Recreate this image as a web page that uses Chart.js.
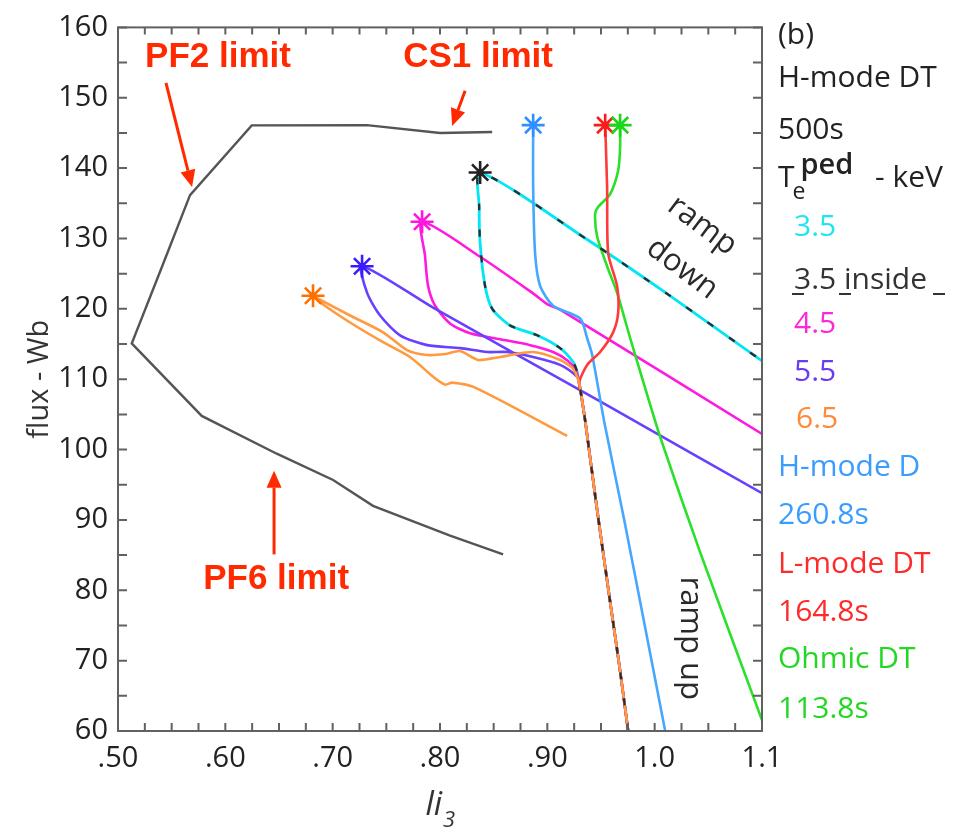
<!DOCTYPE html>
<html>
<head>
<meta charset="utf-8">
<title>flux vs li3</title>
<script src="https://cdn.jsdelivr.net/npm/chart.js@4.4.1/dist/chart.umd.min.js"></script>
<style>
  html, body { margin: 0; padding: 0; background: #fff; }
  #wrap { width: 965px; height: 833px; }
</style>
</head>
<body>
<div id="wrap"><canvas id="flux" width="965" height="833"></canvas></div>
<script>
// axis ticks
const liTicks = [0.5, 0.6, 0.7, 0.8, 0.9, 1.0, 1.1];
const liTickLabels = ['.50', '.60', '.70', '.80', '.90', '1.0', '1.1'];
const fluxTicks = [60, 70, 80, 90, 100, 110, 120, 130, 140, 150, 160];
const fluxTickLabels = ['60', '70', '80', '90', '100', '110', '120', '130', '140', '150', '160'];

// coil limit boundary (CS1 on top, PF2 on the left, PF6 underneath)
const limitLi   = [0.8486, 0.8001, 0.7318, 0.6246, 0.5671, 0.5419, 0.5128, 0.578, 0.6479, 0.7004, 0.7376, 0.8094, 0.8588];
const limitFlux = [145.13, 144.99, 146.11, 146.07, 136.16, 126.34, 115.08, 104.78, 99.41, 95.67, 92.0, 87.77, 85.1];

// shared ramp-up, bottom to the branch point
const rampUpLi   = [0.9753, 0.9674, 0.9585, 0.9455, 0.9357, 0.9315, 0.9296];
const rampUpFlux = [60.0, 68.98, 78.37, 92.4, 103.62, 107.83, 109.51];

// H-mode DT, Te ped 3.5 keV: flattop (ends at the star) and ramp-down
const te35FlatLi   = [0.9278, 0.924, 0.9119, 0.8905, 0.8653, 0.8486, 0.842, 0.8374, 0.8365, 0.8374];
const te35FlatFlux = [111.05, 112.45, 114.42, 116.24, 117.64, 120.03, 123.25, 129.28, 134.47, 139.38];
const te35DownLi   = [0.9371, 1.0144, 1.1];
const te35DownFlux = [129.85, 121.85, 112.6];

// Te ped 4.5 keV
const te45FlatLi   = [0.9268, 0.9194, 0.9054, 0.884, 0.856, 0.828, 0.8094, 0.7954, 0.7889, 0.7861, 0.7833];
const te45FlatFlux = [111.19, 112.6, 113.86, 114.84, 115.68, 116.52, 117.92, 120.45, 123.25, 127.46, 132.37];
const te45DownLi   = [0.8374, 0.8886, 0.9007, 0.9119, 1.1];
const te45DownFlux = [127.4, 121.99, 120.59, 119.89, 102.22];

// Te ped 5.5 keV
const te55FlatLi   = [0.9278, 0.9119, 0.8868, 0.8625, 0.8439, 0.8187, 0.788, 0.7628, 0.7442, 0.7321, 0.7274];
const te55FlatFlux = [110.35, 112.03, 113.16, 113.86, 113.86, 114.42, 114.84, 116.24, 119.05, 122.27, 126.06];
const te55DownLi   = [0.7936, 0.9492, 1.1];
const te55DownFlux = [120.17, 106.84, 93.8];

// Te ped 6.5 keV
const te65FlatLi   = [0.924, 0.9119, 0.8868, 0.856, 0.8355, 0.8187, 0.8047, 0.788, 0.7693, 0.747, 0.7162, 0.6883, 0.6817];
const te65FlatFlux = [111.47, 112.73, 113.86, 113.16, 112.73, 114.0, 113.58, 113.44, 114.14, 116.66, 119.05, 121.29, 121.85];
const te65DownLi   = [0.6901, 0.7162, 0.747, 0.7721, 0.7936, 0.8047, 0.8113, 0.8327, 0.9185];
const te65DownFlux = [120.73, 118.06, 115.26, 113.16, 110.35, 109.23, 109.51, 108.81, 101.94];

// H-mode D, 260.8 s
const hmodeDLi   = [1.0098, 0.9895, 0.9716, 0.9529, 0.9418, 0.9371, 0.9306, 0.9054, 0.8933, 0.8886, 0.8868, 0.8868];
const hmodeDFlux = [60.0, 75.99, 90.01, 104.04, 113.44, 115.82, 118.63, 120.45, 123.25, 127.88, 137.28, 146.11];

// L-mode DT, 164.8 s (after the branch point)
const lmodeLi   = [0.9371, 0.9492, 0.9613, 0.966, 0.965, 0.9567, 0.9557, 0.9539];
const lmodeFlux = [112.03, 113.86, 116.66, 119.47, 123.25, 127.88, 137.28, 146.11];

// Ohmic DT, 113.8 s
const ohmicLi   = [1.1, 1.0424, 1.0051, 0.9893, 0.9772, 0.965, 0.9557, 0.9464, 0.9445, 0.9473, 0.9585, 0.966, 0.9678, 0.9678];
const ohmicFlux = [61.54, 85.39, 101.8, 109.65, 115.82, 122.27, 126.06, 130.27, 133.49, 134.47, 136.3, 139.66, 142.89, 146.11];

// callouts
const calloutText = ['PF2 limit', 'CS1 limit', 'PF6 limit'];
const calloutLi   = [0.5932, 0.8355, 0.6473];
const calloutFlux = [155.8, 155.8, 81.6];
const arrowTailLi   = [0.5447, 0.8234, 0.6454];
const arrowTailFlux = [152.1, 151.0, 85.1];
const arrowTipLi    = [0.569, 0.8113, 0.6454];
const arrowTipFlux  = [137.3, 146.0, 97.0];

function track(li, flux) {
  return li.map((v, i) => ({ x: v, y: flux[i] }));
}

function line(label, data, color, extra) {
  return Object.assign({
    label, data, showLine: true, fill: false,
    borderColor: color, backgroundColor: color,
    borderWidth: 2.6, tension: 0.25,
    pointRadius: 0, pointHoverRadius: 0, pointStyle: 'star'
  }, extra || {});
}

function starAt(idx, color) {
  return {
    starIndex: idx, starColor: color,
    pointRadius: ctx => (ctx.dataIndex === idx ? 11.5 : 0),
    pointBorderColor: color, pointBackgroundColor: color, pointBorderWidth: 2.6
  };
}

const up = rampUpLi.length;
const te35Path = track([...rampUpLi, ...te35FlatLi, ...te35DownLi], [...rampUpFlux, ...te35FlatFlux, ...te35DownFlux]);
const te45Path = track([...rampUpLi, ...te45FlatLi, ...te45DownLi], [...rampUpFlux, ...te45FlatFlux, ...te45DownFlux]);
const te55Path = track([...rampUpLi, ...te55FlatLi, ...te55DownLi], [...rampUpFlux, ...te55FlatFlux, ...te55DownFlux]);
const te65Path = track([...rampUpLi, ...te65FlatLi, ...te65DownLi], [...rampUpFlux, ...te65FlatFlux, ...te65DownFlux]);
const lmodePath = track([...rampUpLi, ...lmodeLi], [...rampUpFlux, ...lmodeFlux]);

// listed bottom layer first; Chart.js paints dataset 0 last, so the list is reversed below
const datasets = [
  line('limit', track(limitLi, limitFlux), '#555', { borderWidth: 2.4, tension: 0 }),
  line('3.5', te35Path, '#00e6f6', { borderWidth: 2.8 }),
  line('4.5', te45Path, '#ff1ae0', starAt(up + te45FlatLi.length - 1, '#ff14e0')),
  line('5.5', te55Path, '#6a40ff', starAt(up + te55FlatLi.length - 1, '#3a1cff')),
  line('H-mode D', track(hmodeDLi, hmodeDFlux), '#45a8ff', starAt(hmodeDLi.length - 1, '#2f8fff')),
  line('Ohmic DT', track(ohmicLi, ohmicFlux), '#2ae02a'),
  line('L-mode DT', lmodePath, '#ff3a3a', starAt(lmodePath.length - 1, '#ff1a1a')),
  line('6.5', te65Path, '#ff9a40', starAt(up + te65FlatLi.length - 1, '#ff7000')),
  line('3.5 inside', te35Path, '#2e2e2e', Object.assign({ borderWidth: 2.3, borderDash: [7, 19] },
    starAt(up + te35FlatLi.length - 1, '#222'))),
  // green star sits over the red one
  line('Ohmic star', track(ohmicLi, ohmicFlux), 'rgba(0,0,0,0)', starAt(ohmicLi.length - 1, '#18d818'))
].reverse();

const legendRows = [
  { text: '(b)', color: '#222', indent: 0, y: 44 },
  { text: 'H-mode DT', color: '#222', indent: 0, y: 87 },
  { text: '500s', color: '#222', indent: 0, y: 139 },
  { text: 'Te', color: '#222', indent: 0, y: 187 },
  { text: '3.5', color: '#20e4f0', indent: 16, y: 236 },
  { text: '3.5 inside', color: '#333', indent: 16, y: 289 },
  { text: '4.5', color: '#ff28d8', indent: 16, y: 333 },
  { text: '5.5', color: '#6a3cf0', indent: 16, y: 381 },
  { text: '6.5', color: '#ff8a3a', indent: 18, y: 428 },
  { text: 'H-mode D', color: '#3a9cff', indent: 0, y: 476 },
  { text: '260.8s', color: '#3a9cff', indent: 0, y: 524 },
  { text: 'L-mode DT', color: '#ff2a2a', indent: 0, y: 573 },
  { text: '164.8s', color: '#ff2a2a', indent: 0, y: 621 },
  { text: 'Ohmic DT', color: '#22d822', indent: 0, y: 668 },
  { text: '113.8s', color: '#22d822', indent: 0, y: 718 }
];

const SANS = '"Open Sans", "Noto Sans", sans-serif';

const frameTicks = {
  id: 'frameTicks',
  afterDatasetsDraw(chart) {
    const { ctx, chartArea: a, scales: { x, y } } = chart;
    ctx.save();
    ctx.strokeStyle = '#616161';
    ctx.lineWidth = 2;
    ctx.setLineDash([]);
    ctx.strokeRect(a.left, a.top, a.right - a.left, a.bottom - a.top);
    ctx.beginPath();
    for (let v = 60; v <= 160; v += 5) {
      const py = y.getPixelForValue(v);
      ctx.moveTo(a.left, py); ctx.lineTo(a.left + 9, py);
      ctx.moveTo(a.right, py); ctx.lineTo(a.right - 9, py);
    }
    for (let i = 0; i <= 24; i++) {
      const px = x.getPixelForValue(0.5 + i * 0.025);
      ctx.moveTo(px, a.bottom); ctx.lineTo(px, a.bottom - 8);
      ctx.moveTo(px, a.top); ctx.lineTo(px, a.top + 7);
    }
    ctx.stroke();

    // filled centres of the asterisk markers
    chart.data.datasets.forEach((ds, di) => {
      if (ds.starIndex === undefined) return;
      const el = chart.getDatasetMeta(di).data[ds.starIndex];
      ctx.fillStyle = ds.starColor;
      ctx.beginPath();
      ctx.arc(el.x, el.y, 3.5, 0, Math.PI * 2);
      ctx.fill();
    });
    ctx.restore();
  }
};

function arrow(ctx, x0, y0, x1, y1) {
  const ang = Math.atan2(y1 - y0, x1 - x0);
  const head = 17, half = 7.5;
  const bx = x1 - head * Math.cos(ang), by = y1 - head * Math.sin(ang);
  ctx.beginPath();
  ctx.moveTo(x0, y0); ctx.lineTo(bx, by);
  ctx.stroke();
  ctx.beginPath();
  ctx.moveTo(x1, y1);
  ctx.lineTo(bx + half * Math.sin(ang), by - half * Math.cos(ang));
  ctx.lineTo(bx - half * Math.sin(ang), by + half * Math.cos(ang));
  ctx.closePath();
  ctx.fill();
}

const annotations = {
  id: 'annotations',
  afterDraw(chart) {
    const { ctx, chartArea: a, scales: { x, y } } = chart;
    ctx.save();

    // red callouts
    ctx.fillStyle = '#ff2a00';
    ctx.strokeStyle = '#ff2a00';
    ctx.lineWidth = 3;
    ctx.font = 'bold 35px "Liberation Sans", Arial, sans-serif';
    ctx.textAlign = 'center';
    ctx.textBaseline = 'middle';
    calloutText.forEach((t, i) => {
      ctx.fillText(t, x.getPixelForValue(calloutLi[i]), y.getPixelForValue(calloutFlux[i]));
      arrow(ctx, x.getPixelForValue(arrowTailLi[i]), y.getPixelForValue(arrowTailFlux[i]),
        x.getPixelForValue(arrowTipLi[i]), y.getPixelForValue(arrowTipFlux[i]));
    });

    // ramp labels
    ctx.fillStyle = '#2a2a2a';
    ctx.font = '31px ' + SANS;
    const rot = (t, li, fl, deg) => {
      ctx.save();
      ctx.translate(x.getPixelForValue(li), y.getPixelForValue(fl));
      ctx.rotate(deg * Math.PI / 180);
      ctx.fillText(t, 0, 0);
      ctx.restore();
    };
    rot('ramp', 1.0443, 131.8, 37);
    rot('down', 1.0256, 125.7, 37);
    rot('ramp up', 1.0331, 73.18, 90);

    // axis titles
    ctx.fillStyle = '#333';
    ctx.save();
    ctx.translate(48, (a.top + a.bottom) / 2);
    ctx.rotate(-Math.PI / 2);
    ctx.textBaseline = 'alphabetic';
    ctx.font = '29px ' + SANS;
    ctx.fillText('flux - Wb', 0, 0);
    ctx.restore();

    ctx.textAlign = 'left';
    ctx.textBaseline = 'alphabetic';
    ctx.font = 'italic 33px ' + SANS;
    const cx = (a.left + a.right) / 2;
    const liW = ctx.measureText('li').width;
    ctx.font = '22px ' + SANS;
    const subW = ctx.measureText('3').width;
    const x0 = cx - (liW + subW) / 2;
    ctx.font = 'italic 33px ' + SANS;
    ctx.fillText('li', x0, 815);
    ctx.font = 'italic 22px ' + SANS;
    ctx.fillText('3', x0 + liW + 1, 827);

    // legend column
    const lx = a.right + 16;
    legendRows.forEach(r => {
      ctx.fillStyle = r.color;
      ctx.font = '30px ' + SANS;
      if (r.text === 'Te') {
        ctx.fillText('T', lx, r.y);
        const tw = ctx.measureText('T').width;
        ctx.font = '23px ' + SANS;
        ctx.fillText('e', lx + tw - 2, r.y + 12);
        ctx.font = '600 29px ' + SANS;
        ctx.fillText('ped', lx + tw + 6, r.y - 13);
        ctx.font = '30px ' + SANS;
        ctx.fillText('- keV', lx + 97, r.y);
        return;
      }
      ctx.fillText(r.text, lx + r.indent, r.y);
      if (r.text === '3.5 inside') {
        ctx.strokeStyle = r.color;
        ctx.lineWidth = 2;
        ctx.setLineDash([12, 35]);
        ctx.beginPath();
        ctx.moveTo(lx + r.indent - 2, r.y + 5);
        ctx.lineTo(lx + r.indent + 152, r.y + 5);
        ctx.stroke();
        ctx.setLineDash([]);
      }
    });
    ctx.restore();
  }
};

new Chart(document.getElementById('flux').getContext('2d'), {
  type: 'scatter',
  data: { datasets },
  options: {
    responsive: false,
    animation: false,
    events: [],
    layout: { padding: { top: 18, right: 203, bottom: 0, left: 0 } },
    scales: {
      x: {
        type: 'linear', min: 0.5, max: 1.1,
        afterFit: s => { s.height = 102; },
        afterBuildTicks: s => { s.ticks = liTicks.map(v => ({ value: v })); },
        grid: { display: false, drawTicks: false },
        border: { display: false },
        ticks: {
          padding: 10, maxRotation: 0, autoSkip: false, color: '#222',
          font: { family: SANS, size: 29 },
          callback: (v, i) => liTickLabels[i]
        }
      },
      y: {
        type: 'linear', min: 60, max: 160,
        afterFit: s => { s.width = 118; },
        afterBuildTicks: s => { s.ticks = fluxTicks.map(v => ({ value: v })); },
        grid: { display: false, drawTicks: false },
        border: { display: false },
        ticks: {
          padding: 10, color: '#222',
          font: { family: SANS, size: 29 },
          callback: (v, i) => fluxTickLabels[i]
        }
      }
    },
    plugins: { legend: { display: false }, tooltip: { enabled: false } }
  },
  plugins: [frameTicks, annotations]
});
</script>
</body>
</html>
